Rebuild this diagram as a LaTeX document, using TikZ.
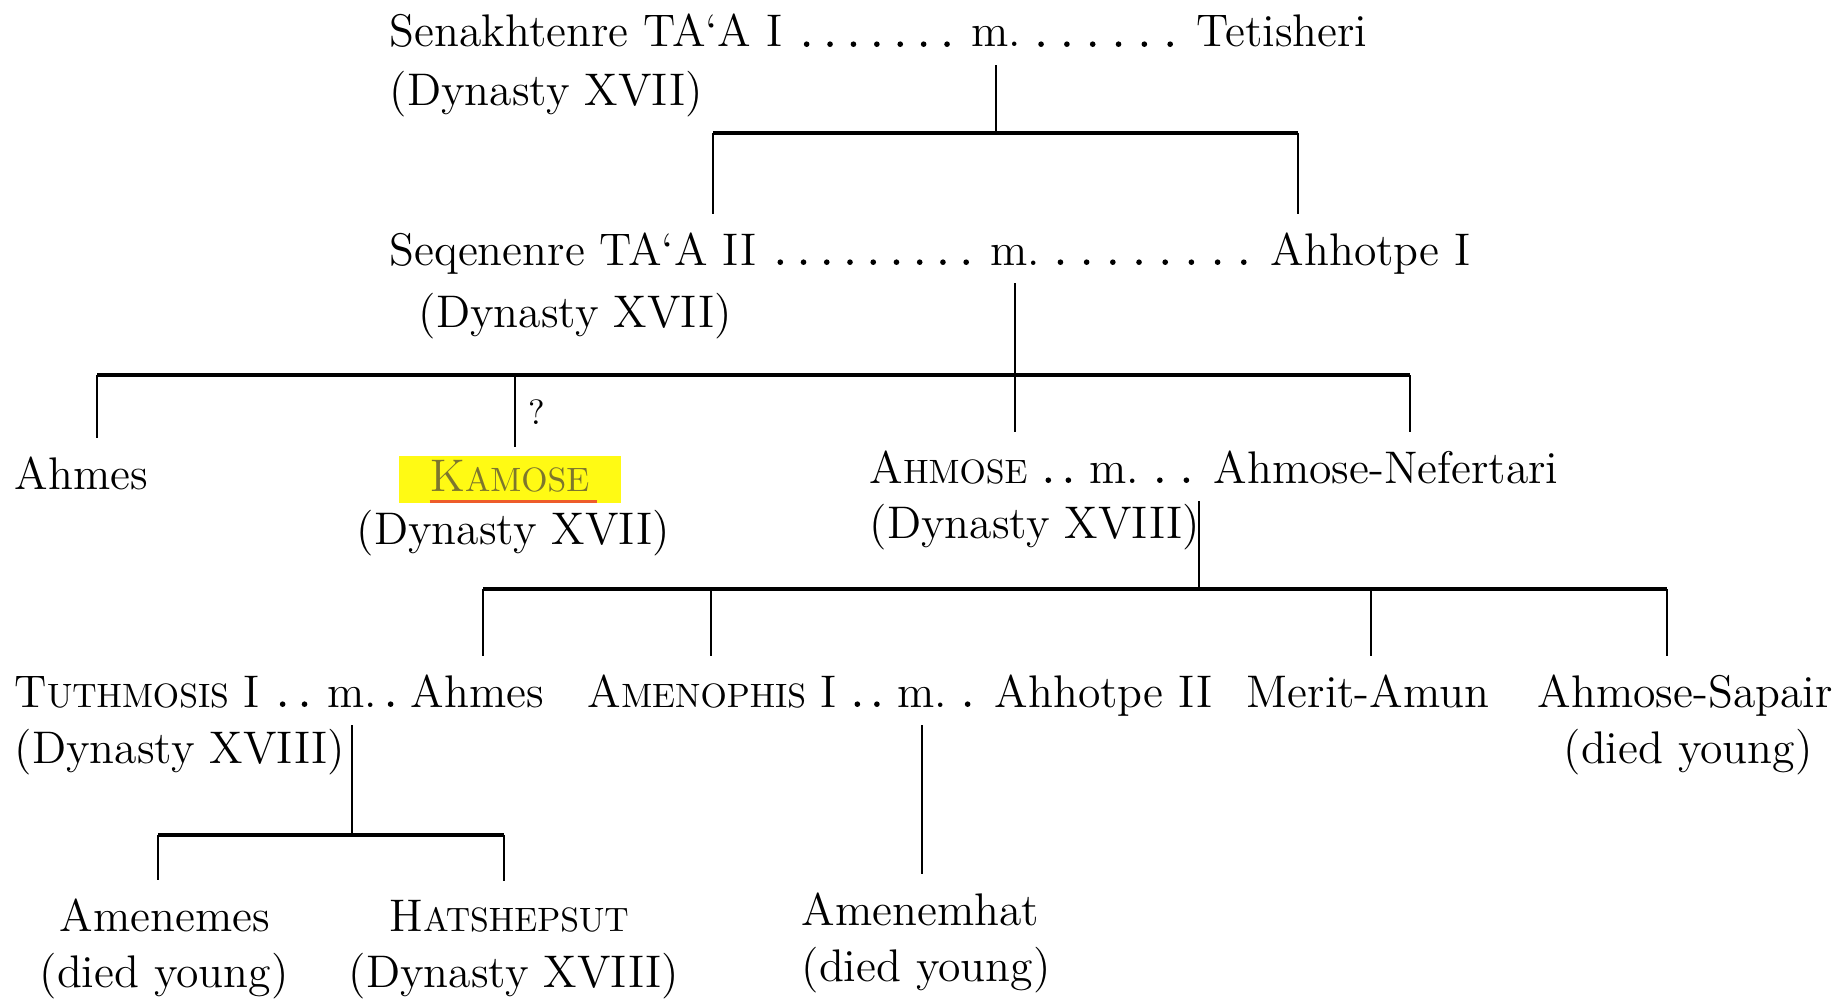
\documentclass[tikz,border=0pt]{standalone}
\usepackage{fontspec}
\usepackage{tikz}
\usetikzlibrary{calc}
\definecolor{hilite}{RGB}{255,250,20}
\definecolor{kamosetxt}{RGB}{125,118,45}
\definecolor{ulred}{RGB}{238,92,42}
\newcommand{\smcap}[2]{#1{\fontsize{9.6}{12}\selectfont #2}}
\tikzstyle{person}=[anchor=base west,inner xsep=0pt,inner ysep=5pt,font=\fontsize{13}{15}\selectfont]
\tikzstyle{wed}=[anchor=base,inner xsep=0pt,inner ysep=5pt,font=\fontsize{13}{15}\selectfont]
\tikzstyle{edge}=[draw,line width=0.6pt,-]
\tikzstyle{bar}=[draw,line width=1.1pt,-]
\tikzstyle{uline}=[draw=ulred,line width=0.9pt]

\begin{document}
\begin{tikzpicture}[x=0.01cm,y=-0.01cm]
    \useasboundingbox (0,0) rectangle (1847,1000);
    % First the people, one line of text each
    \foreach \pos/\name/\txt in {{(389,47)/senakh/Senakhtenre TA‘A I}, {(1196,47)/tetisheri/Tetisheri}, {(389,106)/dynA/(Dynasty XVII)},
        {(389,265)/seqenenre/Seqenenre TA‘A II}, {(1270,265)/ahhotpeA/Ahhotpe I}, {(418,327)/dynB/(Dynasty XVII)},
        {(14,489)/ahmesA/Ahmes}, {(356,544)/dynC/(Dynasty XVII)},
        {(869,483)/ahmose/\smcap{A}{HMOSE}}, {(1213,483)/nefertari/Ahmose-Nefertari}, {(869,538)/dynD/(Dynasty XVIII)},
        {(14,707)/tuthmosis/\smcap{T}{UTHMOSIS} I}, {(410,707)/ahmesB/Ahmes}, {(14,763)/dynE/(Dynasty XVIII)},
        {(587,707)/amenophis/\smcap{A}{MENOPHIS} I}, {(994,707)/ahhotpeB/Ahhotpe II},
        {(1246,707)/meritamun/Merit-Amun}, {(1537,707)/sapair/Ahmose-Sapair}, {(1563,763)/diedA/(died young)},
        {(59,931)/amenemes/Amenemes}, {(39,987)/diedB/(died young)},
        {(389,931)/hatshepsut/\smcap{H}{ATSHEPSUT}}, {(348,987)/dynF/(Dynasty XVIII)},
        {(801,925)/amenemhat/Amenemhat}, {(801,981)/diedC/(died young)}}
        \node[person] (\name) at \pos {\txt};
    % Kamose is marked
    \node[person,fill=hilite,text=kamosetxt,inner xsep=9pt,inner ysep=1pt,text depth=2.4pt] (kamose) at (398,491) {\smcap{K}{AMOSE}};
    \path[uline] ([xshift=9pt,yshift=0.6pt]kamose.south west) -- ([xshift=-7pt,yshift=0.6pt]kamose.south east);
    \node[font=\fontsize{10}{12}\selectfont,inner sep=0pt] (qmark) at (537,412) {?};
    % Marriages
    \foreach \pos/\name in {(996,47)/mA, (1015,265)/mB, (1114,483)/mC, (352,707)/mD, (922,707)/mE}
        \node[wed] (\name) at \pos {m.};
    \foreach \a/\b/\cnt in {senakh/mA/7, seqenenre/mB/9, ahmose/mC/2, tuthmosis/mD/2, amenophis/mE/2}
        \foreach \i in {1,...,\cnt}{
            \pgfmathsetmacro\fr{\i/(\cnt+1)}
            \fill ($(\a.base east)!\fr!(\b.base west)+(0pt,0.8pt)$) circle (0.8pt);
        }
    \foreach \a/\b/\cnt in {mA/tetisheri/6, mB/ahhotpeA/8, mC/nefertari/2, mD/ahmesB/1, mE/ahhotpeB/1}
        \foreach \i in {1,...,\cnt}{
            \pgfmathsetmacro\fr{\i/(\cnt+1)}
            \fill ($([xshift=-1.8pt]\a.base east)!\fr!(\b.base west)+(0pt,0.8pt)$) circle (0.8pt);
        }
    % Bars of the family lines
    \coordinate (barAl) at (713,133); \coordinate (barAr) at (1298,133);
    \coordinate (barBa) at (97,375); \coordinate (barBb) at (515,375); \coordinate (barBc) at (1410,375);
    \coordinate (jC) at (1199,589);
    \coordinate (barCa) at (483,589); \coordinate (barCb) at (711,589); \coordinate (barCc) at (1371,589); \coordinate (barCd) at (1667,589);
    \coordinate (barDa) at (158,835); \coordinate (barDb) at (504,835);
    \path[bar] (barAl) -- (barAr);
    \path[bar] (barBa) -- (barBc);
    \path[bar] (barCa) -- (barCd);
    \path[bar] (barDa) -- (barDb);
    % Lines down from each marriage
    \path[edge] (mA.south) -- (mA.south |- barAl);
    \path[edge] (mB.south) -- (mB.south |- ahmose.north);
    \path[edge] (jC |- mC.south) -- (jC);
    \path[edge] (mD.south) -- (mD.south |- barDa);
    \path[edge] (mE.south) -- (mE.south |- amenemhat.north);
    % Lines down to the children
    \foreach \c/\n in {barAl/seqenenre, barAr/ahhotpeA, barBa/ahmesA, barBc/nefertari,
        barCa/ahmesB, barCb/amenophis, barCc/meritamun, barCd/sapair, barDa/amenemes, barDb/hatshepsut}
        \path[edge] (\c) -- (\c |- \n.north);
    \path[edge,shorten >=2.5pt] (barBb) -- (barBb |- kamose.north);
\end{tikzpicture}
\end{document}
